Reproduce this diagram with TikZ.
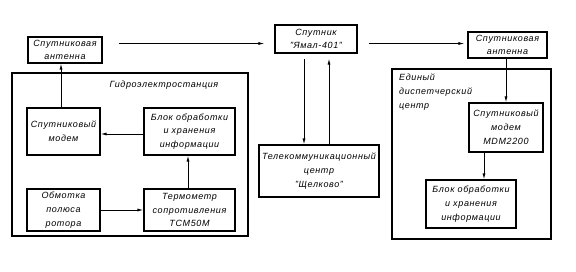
\documentclass[tikz,border=0pt]{standalone}
\usepackage{fontspec}
\setmainfont{Liberation Sans}[LetterSpace=7]
\usetikzlibrary{arrows.meta,calc}
\begin{document}
\begin{tikzpicture}[x=1pt,y=-1pt,
  txt/.style={font=\fontsize{9}{13.8}\selectfont\itshape},
  box/.style={draw,line width=1.1pt,inner sep=0pt,align=center,txt},
  frame/.style={draw,line width=1.1pt,inner sep=0pt},
  arr/.style={line width=0.9pt,-{Latex[length=6pt,width=3pt]}},
  ln/.style={line width=0.9pt}]
\useasboundingbox (0,0) rectangle (576,272);
% left group
\node[box,minimum width=74pt,minimum height=26pt] (ant1) at (65,50) {Спутниковая\\антенна};
\node[frame,minimum width=236pt,minimum height=163pt] (hydro) at (130,154.5) {};
\node[txt] (hydrot) at (164,85) {Гидроэлектростанция};
\node[box,minimum width=73pt,minimum height=47pt] (m1) at (63.5,131.5) {Спутниковый\\модем};
\node[box,minimum width=91pt,minimum height=47pt] (b1) at (189.5,131.5) {Блок обработки\\и хранения\\информации};
\node[box,minimum width=73pt,minimum height=42pt] (o1) at (63.5,210) {Обмотка\\полюса\\ротора};
\node[box,minimum width=91pt,minimum height=42pt] (t1) at (189.5,210) {Термометр\\сопротивления\\ТСМ50М};
% middle
\node[box,minimum width=82pt,minimum height=28pt,font=\fontsize{9}{12.5}\selectfont\itshape] (yamal) at (316,39) {Спутник\\"Ямал-401"};
\node[box,minimum width=120pt,minimum height=52pt] (tel) at (319,171) {Телекоммуникационный\\центр\\"Щелково"};
% right group
\node[box,minimum width=79pt,minimum height=26pt,font=\fontsize{9}{12.5}\selectfont\itshape] (ant2) at (507.5,45) {Спутниковая\\антенна};
\node[frame,minimum width=159pt,minimum height=170pt] (edc) at (471.5,154) {};
\node[txt,align=left,anchor=north west,inner sep=0pt] (edct) at (399,74) {Единый\\диспетчерский\\центр};
\node[box,minimum width=74pt,minimum height=49pt] (m2) at (506,127.5) {Спутниковый\\модем\\MDM2200};
\node[box,minimum width=90pt,minimum height=48pt] (b2) at (471,204) {Блок обработки\\и хранения\\информации};
% connectors
\coordinate (a1) at ($(yamal.west)+(0,4.5)$);
\draw[arr,shorten <=16pt,shorten >=10pt] (ant1.east |- a1) -- (a1);
\draw[arr,shorten <=11pt,shorten >=3pt] (yamal.east |- a1) -- (ant2.west |- a1);
\coordinate (yl) at ($(yamal.south)+(-12,0)$);
\coordinate (yr) at ($(yamal.south)+(13,0)$);
\draw[arr,shorten <=5pt] (yl) -- (yl |- tel.north);
\draw[arr,shorten >=5pt] (yr |- tel.north) -- (yr);
\coordinate (mt) at ($(m1.north)+(-2.5,0)$);
\draw[arr] (mt) -- (mt |- ant1.south);
\coordinate (bw) at ($(b1.west)+(0,2.5)$);
\draw[arr] (bw) -- (bw -| m1.east);
\draw[arr] (o1.east) -- (t1.west);
\coordinate (tn) at ($(t1.north)+(-1.5,0)$);
\draw[arr] (tn) -- (tn |- b1.south);
\draw[arr] (m2.north |- ant2.south) -- (m2.north);
\coordinate (ms) at ($(m2.south)+(-22,0)$);
\draw[arr] (ms) -- (ms |- b2.north);
\end{tikzpicture}
\end{document}
